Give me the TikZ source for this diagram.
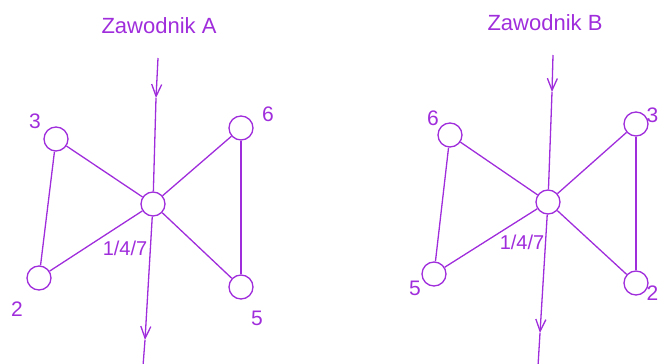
\documentclass[tikz,border=0pt]{standalone}
\usepackage{fontspec}
\setmainfont{Liberation Sans}
\usetikzlibrary{arrows.meta}
\definecolor{lila}{RGB}{160,45,220}

\begin{document}
\begin{tikzpicture}[x=1pt, y=-1pt, lila, line width=1.3pt,
    seat/.style={circle, draw, minimum size=24pt, inner sep=0pt},
    num/.style={inner sep=0pt, font=\fontsize{21}{21}\selectfont},
    place/.style={inner sep=0pt, font=\fontsize{20}{20}\selectfont},
    title/.style={inner sep=0pt, font=\fontsize{22}{22}\selectfont},
    tip/.style={-{Straight Barb[length=12pt, width=10pt, line width=1.3pt]}}]
    \useasboundingbox (0,0) rectangle (659,364);

    % Zawodnik A
    \node[title] (title-a) at (159,26) {Zawodnik A};
    \node[seat] (a-mid) at (153,204) {};
    \node[seat] (a3) at (56,139) {};
    \node[seat] (a6) at (241,128) {};
    \node[seat] (a2) at (39,278) {};
    \node[seat] (a5) at (241,287) {};
    \coordinate (a-in) at (158,58);
    \coordinate (a-tip1) at (156,98);
    \coordinate (a-tip2) at (145,340);
    \coordinate (a-out) at (143,366);

    \node[num] (a3-label) at (35,121) {3};
    \node[num] (a6-label) at (268,114) {6};
    \node[num] (a2-label) at (17,309) {2};
    \node[num] (a5-label) at (257,318) {5};
    \node[place] (a-mid-label) at (125,248) {1/4/7};

    \draw[tip] (a-in) -- (a-tip1);
    \draw (a-tip1) -- (a-mid);
    \draw[tip] (a-mid) -- (a-tip2);
    \draw (a-tip2) -- (a-out);
    \draw (a3) -- (a-mid) -- (a6);
    \draw (a2) -- (a-mid) -- (a5);
    \draw (a3) -- (a2);
    \draw (a6) -- (a5);

    % Zawodnik B
    \node[title] (title-b) at (545,23) {Zawodnik B};
    \node[seat] (b-mid) at (548,202) {};
    \node[seat] (b6) at (450,135) {};
    \node[seat] (b3) at (636,124) {};
    \node[seat] (b5) at (434,274) {};
    \node[seat] (b2) at (636,283) {};
    \coordinate (b-in) at (553,55);
    \coordinate (b-tip1) at (552,92);
    \coordinate (b-tip2) at (540,333);
    \coordinate (b-out) at (538,366);

    \node[num] (b6-label) at (433,118) {6};
    \node[num, anchor=east] (b3-label) at (659,115) {3};
    \node[num] (b5-label) at (415,288) {5};
    \node[num, anchor=east] (b2-label) at (659,293) {2};
    \node[place] (b-mid-label) at (522,242) {1/4/7};

    \draw[tip] (b-in) -- (b-tip1);
    \draw (b-tip1) -- (b-mid);
    \draw[tip] (b-mid) -- (b-tip2);
    \draw (b-tip2) -- (b-out);
    \draw (b6) -- (b-mid) -- (b3);
    \draw (b5) -- (b-mid) -- (b2);
    \draw (b6) -- (b5);
    \draw (b3) -- (b2);
\end{tikzpicture}
\end{document}
